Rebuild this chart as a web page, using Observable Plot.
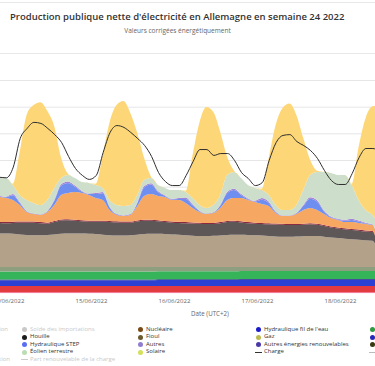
<!DOCTYPE html>
<html><head><meta charset="utf-8">
<script src="https://cdn.jsdelivr.net/npm/d3@7"></script>
<script src="https://cdn.jsdelivr.net/npm/@observablehq/plot@0.6"></script>
<style>
html,body{margin:0;padding:0;background:#fff;width:375px;height:366px;overflow:hidden;font-family:"Open Sans",sans-serif;}
#wrap{position:relative;width:375px;height:366px;overflow:hidden;}
.abs{position:absolute;white-space:nowrap;line-height:1;}
.sep{position:absolute;left:0;width:375px;height:1px;background:#e8e8e8;}
#title{font-weight:600;color:#333;font-size:11px;left:10px;top:12px;}
#subtitle{color:#666;font-size:6.5px;top:28px;}
#xlabel{color:#666;font-size:6.2px;top:311px;}
.leg{font-size:6px;color:#333;}
.mk{position:absolute;width:5px;height:5px;border-radius:50%;}
.ln{position:absolute;height:1px;width:7px;}
#chart{position:absolute;left:0;top:60px;}
</style></head><body>
<div id="wrap">
  <div class="sep" style="top:2px"></div>
  <div id="title" class="abs">Production publique nette d'électricité en Allemagne en semaine 24 2022</div>
  <div id="subtitle" class="abs">Valeurs corrigées énergétiquement</div>
  <div class="sep" style="top:53px"></div>
  <div id="chart"></div>
  <div id="xlabel" class="abs">Date (UTC+2)</div>
  <div id="legend"></div>
</div>
<script>
// ---- Data (GW), 2-hour steps from 14/06/2022 00:00 (UTC+2) ----
const stepHours = 2;
const autresBas = [0.4,0.4,0.4,0.4,0.4,0.4,0.4,0.4,0.4,0.4,0.4,0.4, 0.4,0.4,0.4,0.4,0.4,0.4,0.4,0.4,0.4,0.4,0.4,0.4, 0.4,0.4,0.4,0.4,0.4,0.4,0.4,0.4,0.4,0.4,0.4,0.4, 0.4,0.4,0.4,0.4,0.4,0.4,0.4,0.4,0.4,0.4,0.4,0.4, 0.4,0.4,0.4,0.4,0.4,0.4,0.4,0.4,0.4];
const nucleaire = [2.3,2.3,2.3,2.3,2.3,2.3,2.3,2.3,2.3,2.3,2.3,2.3, 2.3,2.3,2.3,2.3,2.3,2.3,2.3,2.3,2.3,2.3,2.3,2.3, 2.3,2.3,2.3,2.3,2.3,2.3,2.3,2.3,2.3,2.3,2.3,2.3, 2.3,2.3,2.3,2.3,2.3,2.3,2.3,2.3,2.3,2.3,2.3,2.3, 2.3,2.3,2.3,2.3,2.3,2.3,2.3,2.3,2.3];
const filEau = [2.2,2.2,2.2,2.2,2.2,2.2,2.2,2.2,2.2,2.2,2.2,2.2, 2.2,2.2,2.2,2.2,2.2,2.2,2.2,2.2,2.2,2.2,2.2,2.2, 2.3,2.3,2.3,2.3,2.3,2.3,2.3,2.3,2.3,2.3,2.3,2.3, 2.4,2.4,2.4,2.4,2.4,2.4,2.4,2.4,2.4,2.4,2.4,2.4, 2.4,2.4,2.4,2.4,2.4,2.4,2.4,2.4,2.4];
const reservoir = [0.3,0.3,0.3,0.3,0.3,0.3,0.3,0.3,0.3,0.3,0.3,0.3, 0.3,0.3,0.3,0.3,0.3,0.3,0.3,0.3,0.3,0.3,0.3,0.3, 0.3,0.3,0.3,0.3,0.3,0.3,0.3,0.3,0.3,0.3,0.3,0.3, 0.3,0.3,0.3,0.3,0.3,0.3,0.3,0.3,0.3,0.3,0.3,0.3, 0.3,0.3,0.3,0.3,0.3,0.3,0.3,0.3,0.3];
const biomasse = [3.0,3.0,3.0,3.0,3.0,3.0,3.0,3.0,3.0,3.0,3.0,3.0, 3.0,3.0,3.0,3.0,3.0,3.0,3.0,3.0,3.0,3.0,3.0,3.0, 3.0,3.0,3.0,3.0,3.0,3.0,3.0,3.0,3.0,3.0,3.0,3.0, 3.0,3.0,3.0,3.0,3.0,3.0,3.0,3.0,3.0,3.0,3.0,3.0, 3.0,3.0,3.0,3.0,3.0,3.0,3.0,3.0,3.0];
const dechets = [1.7,1.7,1.7,1.7,1.7,1.7,1.7,1.7,1.7,1.7,1.7,1.7, 1.7,1.7,1.7,1.7,1.7,1.7,1.7,1.7,1.7,1.7,1.7,1.7, 1.6,1.6,1.6,1.6,1.6,1.6,1.6,1.6,1.6,1.6,1.6,1.6, 1.5,1.5,1.5,1.5,1.5,1.5,1.5,1.5,1.5,1.5,1.5,1.5, 1.5,1.5,1.5,1.5,1.5,1.5,1.5,1.5,1.5];
const lignite = [12.4,12.5,12.5,12.4,12.2,12.0,11.9,11.9,12.0,12.2,12.4,12.5, 12.5,12.5,12.4,12.3,12.1,11.9,11.8,11.8,11.9,12.1,12.3,12.4, 12.4,12.3,12.2,12.1,11.9,11.7,11.6,11.6,11.7,11.8,12.0,12.1, 12.1,12.0,11.9,11.8,11.6,11.4,11.3,11.3,11.4,11.5,11.6,11.6, 11.3,11.0,10.8,10.6,10.4,10.2,10.0,9.8,4.0];
const houille = [4.2,4.0,3.9,4.1,4.4,4.6,4.7,4.5,4.2,4.6,5.0,5.0, 4.8,4.6,4.5,4.6,4.8,4.9,4.9,4.8,4.7,4.9,5.0,4.9, 4.7,4.5,4.4,4.4,4.5,4.6,4.6,4.5,4.4,4.6,4.8,4.8, 4.6,4.4,4.3,4.3,4.4,4.5,4.5,4.4,4.3,4.3,4.4,4.2, 4.0,3.8,3.6,3.5,3.4,3.4,3.3,3.3,2.0];
const fioul = [0.4,0.4,0.4,0.4,0.4,0.4,0.4,0.4,0.4,0.4,0.4,0.4, 0.4,0.4,0.4,0.4,0.4,0.4,0.4,0.4,0.4,0.4,0.4,0.4, 0.4,0.4,0.4,0.4,0.4,0.4,0.4,0.4,0.4,0.4,0.4,0.4, 0.4,0.4,0.4,0.4,0.4,0.4,0.4,0.4,0.4,0.4,0.4,0.4, 0.4,0.4,0.4,0.4,0.4,0.4,0.4,0.4,0.3];
const gaz = [9.2,9.3,9.0,8.2,6.2,3.6,2.8,2.7,4.0,6.0,9.2,9.8, 10.4,10.2,9.7,8.5,7.8,4.1,2.4,2.1,2.5,5.4,8.9,9.6, 9.1,9.0,8.1,8.2,7.2,5.4,4.0,3.3,3.7,5.3,7.9,8.5, 8.7,8.3,7.7,7.1,6.4,3.9,2.9,3.0,3.7,5.1,5.7,5.1, 4.1,3.1,2.8,2.3,2.6,2.5,2.4,2.2,1.5];
const step = [0.5,0.2,0.3,1.8,0.8,0.2,0,0,0.2,1.5,3.5,3.8, 2.0,0.5,0.3,1.5,2.5,1.0,0.2,0,0.1,1.0,3.2,3.6, 1.5,0.4,0.2,0.4,1.5,1.0,0.3,0,0.1,0.8,2.5,3.0, 1.2,0.3,0.2,1.6,1.2,0.3,0,0,0.2,1.5,3.5,3.2, 1.0,0.3,0.2,0.5,0.8,0.5,0.2,0.1,0.1];
const autres = [0.2,0.2,0.2,0.4,0.3,0.2,0.2,0.2,0.2,0.4,0.5,0.5, 0.4,0.3,0.2,0.4,0.5,0.3,0.2,0.2,0.2,0.3,0.5,0.5, 0.4,0.3,0.2,0.3,0.5,0.4,0.2,0.2,0.2,0.3,0.5,0.5, 0.4,0.3,0.3,0.6,0.5,0.3,0.2,0.2,0.2,0.4,0.5,0.5, 0.4,0.3,0.3,0.4,0.5,0.4,0.3,0.2,0.2];
const eolien = [6.4,6.7,7.0,3.4,2.7,4.1,4.0,3.5,4.1,4.5,2.3,2.5, 2.8,3.3,4.0,3.0,1.5,2.5,3.3,3.5,3.4,2.9,2.3,1.9, 2.2,2.7,3.3,3.0,2.1,2.3,2.1,2.1,2.7,3.8,6.4,6.3, 5.9,5.0,4.8,3.0,2.5,2.4,2.0,2.0,3.0,5.6,8.4,10.6, 14.4,16.3,16.4,16.8,12.6,7.7,4.7,3.5,7.5];
const solaire = [0,0,0,0.5,16.1,31.9,36.7,38.6,33.4,23.2,7.5,0.3, 0,0,0,0.5,12.4,29.2,37.5,39.4,34.5,23.2,8.2,0.5, 0,0,0,0,0.5,16.2,31.1,37.9,34.9,23.6,6.7,0.5, 0,0,0,0.5,13.8,30.0,38.3,40.0,33.8,19.5,5.6,0.5, 0,0,0,0,0.5,19.9,34.5,40.8,45.0];
const charge = [43.6,43.7,43.5,47.5,58.2,62.0,64.3,63.9,62.0,59.7,56.7,51.5, 47.0,44.4,42.9,44.4,53.0,60.5,63.1,62.4,60.5,58.2,55.6,51.5, 45.5,42.1,40.6,40.6,44.4,49.6,54.1,54.1,51.9,52.6,52.6,50.0, 45.5,43.2,40.6,41.7,50.0,56.7,59.4,59.7,57.1,55.6,53.7,50.7, 46.2,42.5,41.0,41.0,45.1,51.1,54.5,54.5,53.0];

const seriesNames = ["Autres (pompage)","Nucléaire","Hydraulique fil de l'eau","Hydraulique réservoir","Biomasse","Déchets","Lignite","Houille","Fioul","Gaz","Hydraulique STEP","Autres","Éolien terrestre","Solaire"];
const seriesValues = [autresBas,nucleaire,filEau,reservoir,biomasse,dechets,lignite,houille,fioul,gaz,step,autres,eolien,solaire];
const seriesColors = ["#f56e9e","#e23a3e","#2b41d4","#1d2480","#36b45a","#8e9f80","#b4a18a","#5e5757","#8a2a3e","#f6a761","#6e8ef0","#a385d8","#cddfca","#fdd777"];

const tickLabels = ["14/06/2022","15/06/2022","16/06/2022","17/06/2022","18/06/2022"];
const gridValues = [10,20,30,40,50,60,70,80];

// legend content
const legendB = ["Solde des importations","Houille","Hydraulique STEP","Éolien terrestre","Part renouvelable de la charge"];
const legendBColors = ["#c9c9c9","#1b1b1b","#5b6ef2","#bcdcb3","#cccccc"];
const legendC = ["Nucléaire","Fioul","Autres","Solaire"];
const legendCColors = ["#7a4a14","#6b5a2c","#8f7fd0","#d3e05a"];
const legendD = ["Hydraulique fil de l'eau","Gaz","Autres énergies renouvelables","Charge"];
const legendDColors = ["#1c1ccc","#bcbb52","#4a3aa8","#333333"];
const legendEColors = ["#2f9a40","#2828b8","#3a3a12","#bbbbbb"];
const legendA = ["Stockage par pompage consommation","Part renouvelable de la production"];

// ---- build ----
const t0 = Date.UTC(2022,5,14,0,0);
const times = solaire.map((_, i) => new Date(t0 + i*stepHours*3600e3));
const rows = [];
seriesNames.forEach((name, s) => seriesValues[s].forEach((v, i) => rows.push({t: times[i], series: name, v})));
const loadRows = charge.map((v, i) => ({t: times[i], v}));
const tickDates = tickLabels.map(s => { const [d,m,y] = s.split("/").map(Number); return new Date(Date.UTC(y, m-1, d)); });

const pxPerDay = 83;
const xMin = new Date(t0 + (8/pxPerDay)*86400e3);
const xMax = new Date(t0 + (383/pxPerDay)*86400e3);

const chart = Plot.plot({
  width: 375, height: 250,
  marginTop: 20, marginBottom: 16.7, marginLeft: 0, marginRight: 0,
  x: {type: "utc", domain: [xMin, xMax], axis: null},
  y: {domain: [0, 80], axis: null},
  color: {domain: seriesNames, range: seriesColors},
  style: {background: "transparent", fontFamily: "Open Sans, sans-serif", overflow: "hidden"},
  marks: [
    Plot.ruleY(gridValues, {stroke: "#e6e6e6", strokeWidth: 1}),
    Plot.areaY(rows, {x: "t", y: "v", fill: "series", z: "series", order: seriesNames, curve: "monotone-x", clip: true}),
    Plot.lineY(loadRows, {x: "t", y: "v", stroke: "#2e2e2e", strokeWidth: 1, curve: "monotone-x", clip: true}),
    Plot.text(tickLabels, {x: tickDates, text: d => d, frameAnchor: "bottom", dy: 9, textAnchor: "start", fontSize: 6, fill: "#666"})
  ]
});
document.getElementById("chart").appendChild(chart);

// legend
const leg = document.getElementById("legend");
const rowY = [329.5, 337, 344.5, 352, 359.5];
function addText(txt, x, y, color, anchorRight) {
  const el = document.createElement("div");
  el.className = "abs leg"; el.textContent = txt; el.style.color = color;
  el.style.top = (y - 3.7) + "px";
  if (anchorRight) el.style.right = (375 - x) + "px"; else el.style.left = x + "px";
  leg.appendChild(el);
}
function addMarker(x, y, color) {
  const m = document.createElement("div"); m.className = "mk";
  m.style.left = (x - 2.5) + "px"; m.style.top = (y - 2.5) + "px"; m.style.background = color;
  leg.appendChild(m);
}
function addLine(x, y, color) {
  const l = document.createElement("div"); l.className = "ln";
  l.style.left = (x - 3.5) + "px"; l.style.top = (y - 0.5) + "px"; l.style.background = color;
  leg.appendChild(l);
}
addText(legendA[0], 8, rowY[0], "#c9c9c9", true);
addText(legendA[1], 10, rowY[4], "#c9c9c9", true);
legendB.forEach((t, i) => {
  if (i === 4) addLine(24, rowY[i], legendBColors[i]); else addMarker(24, rowY[i], legendBColors[i]);
  addText(t, 30, rowY[i], i === 0 || i === 4 ? "#c9c9c9" : "#333");
});
legendC.forEach((t, i) => { addMarker(140, rowY[i], legendCColors[i]); addText(t, 146, rowY[i], "#333"); });
legendD.forEach((t, i) => {
  if (i === 3) addLine(258, rowY[i], legendDColors[i]); else addMarker(258, rowY[i], legendDColors[i]);
  addText(t, 264, rowY[i], "#333");
});
legendEColors.forEach((c, i) => { if (i === 3) addLine(372, rowY[i], c); else addMarker(372, rowY[i], c); });

// fit header texts
function layout() {
  const title = document.getElementById("title");
  title.style.fontSize = "11px";
  const w = title.getBoundingClientRect().width;
  title.style.fontSize = (11 * 335 / w) + "px";
  const sub = document.getElementById("subtitle");
  const sw = sub.getBoundingClientRect().width;
  sub.style.left = (177.5 - sw / 2) + "px";
  const xl = document.getElementById("xlabel");
  xl.style.left = (210 - xl.getBoundingClientRect().width / 2) + "px";
}
layout();
if (document.fonts && document.fonts.ready) document.fonts.ready.then(layout);
</script>
</body></html>
